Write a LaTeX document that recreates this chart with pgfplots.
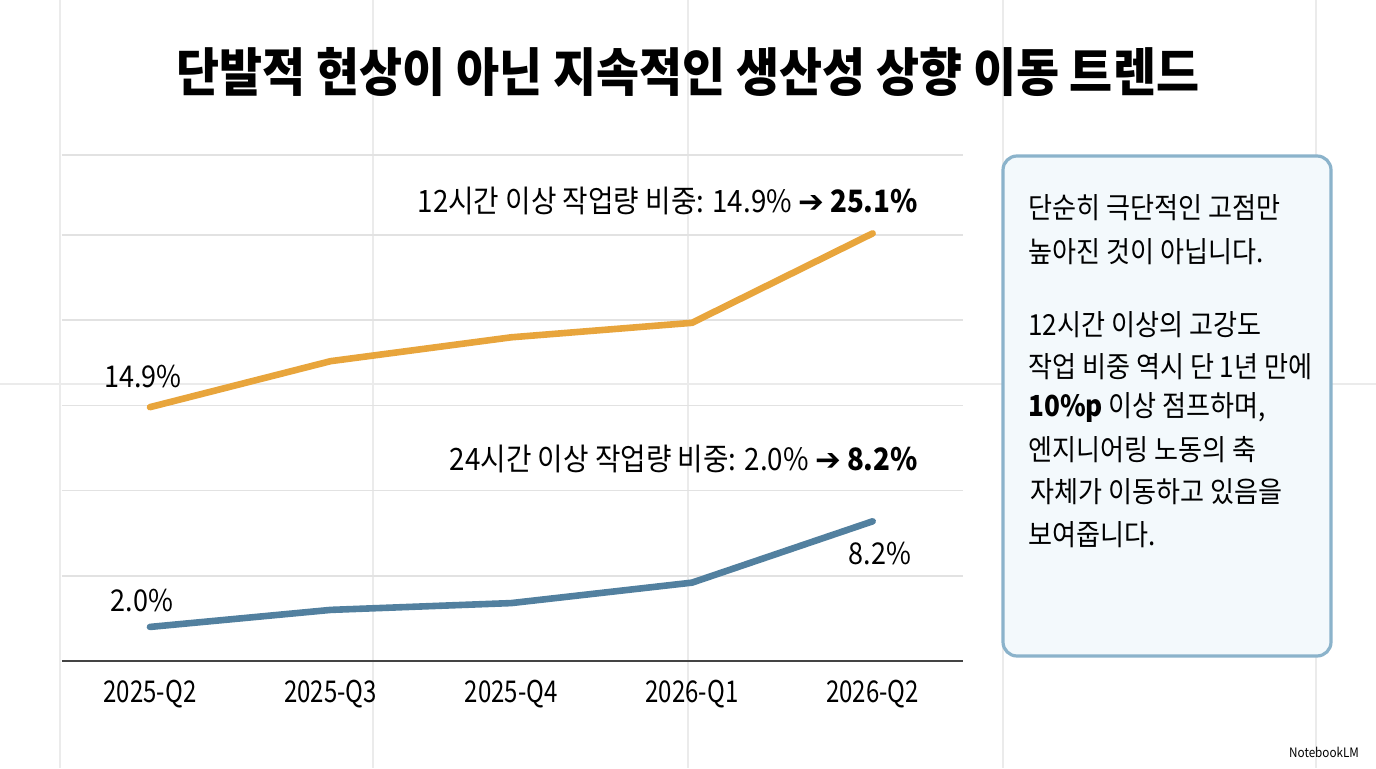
\documentclass[border=0pt]{standalone}
\usepackage{fontspec}
\usepackage{pgfplots}
\pgfplotsset{compat=1.18}
\setmainfont{Noto Sans CJK KR}[FakeStretch=0.9]
\newfontfamily\titlefont{Noto Sans CJK KR}[FakeStretch=0.9]
\newfontfamily\tickfont{Noto Sans CJK KR}[FakeStretch=0.8]
\newfontfamily\sym{DejaVu Sans}
\definecolor{orangeL}{HTML}{E8A53C}
\definecolor{blueL}{HTML}{52809F}
\definecolor{gridc}{HTML}{E2E2E2}
\definecolor{bgc}{HTML}{EBEBEB}
\definecolor{boxb}{HTML}{8BB3CB}
\definecolor{boxf}{HTML}{F3F9FC}
\definecolor{axisc}{HTML}{444444}
\begin{document}
\begin{tikzpicture}
\begin{scope}[x=0.5pt,y=-0.5pt,yshift=384pt]
\path[use as bounding box] (0,0) rectangle (1376,768);
\fill[white] (0,0) rectangle (1376,768);
\foreach \xx in {60,373,688,1003,1316} \draw[bgc, line width=0.6pt] (\xx,0) -- (\xx,768);
\draw[bgc, line width=0.6pt] (0,384) -- (1376,384);
\end{scope}

\begin{axis}[at={(31pt,53.5pt)}, anchor=south west,
  width=450.5pt, height=253pt, scale only axis,
  xmin=-0.487, xmax=4.5, ymin=0, ymax=29.7,
  axis line style={draw=none},
  xtick={0,1,2,3,4},
  xticklabels={2025-Q2,2025-Q3,2025-Q4,2026-Q1,2026-Q2},
  ytick={5,10,15,20,25,29.7}, yticklabels={},
  ymajorgrids, grid style={gridc, line width=0.8pt},
  major tick length=0pt,
  xticklabel style={font=\tickfont\fontsize{15}{18}\selectfont, yshift=-6pt},
  clip=false]
\draw[axisc, line width=1.2pt] (axis cs:-0.487,0) -- (axis cs:4.5,0);
\addplot[orangeL, line width=3.3pt, line join=round, line cap=round] coordinates {(0,14.9) (1,17.6) (2,19.0) (3,19.85) (4,25.1)};
\addplot[blueL, line width=3.3pt, line join=round, line cap=round] coordinates {(0,2.0) (1,3.0) (2,3.4) (3,4.6) (4,8.2)};
\end{axis}

\begin{scope}[x=0.5pt,y=-0.5pt,yshift=384pt]
\node[font=\titlefont\bfseries\fontsize{26}{30}\selectfont] at (688,72) {단발적 현상이 아닌 지속적인 생산성 상향 이동 트렌드};

\node[anchor=east, font=\fontsize{15.4}{18}\selectfont] at (925,201) {12시간 이상 작업량 비중: 14.9\% {\sym ➔} \textbf{25.1\%}};
\node[anchor=east, font=\fontsize{15.4}{18}\selectfont] at (925,459) {24시간 이상 작업량 비중: 2.0\% {\sym ➔} \textbf{8.2\%}};
\node[font=\fontsize{15}{18}\selectfont] at (143,377) {14.9\%};
\node[font=\fontsize{15}{18}\selectfont] at (142,600) {2.0\%};
\node[font=\fontsize{15}{18}\selectfont] at (880,553) {8.2\%};

\draw[boxb, line width=1.6pt, fill=boxf, rounded corners=7pt] (1003,156) rectangle (1331,656);
\begin{scope}[every node/.style={anchor=west, font=\fontsize{14.5}{17}\selectfont, inner sep=0pt}]
\node at (1028,208) {단순히 극단적인 고점만};
\node at (1028,252) {높아진 것이 아닙니다.};
\node at (1028,325) {12시간 이상의 고강도};
\node at (1028,367) {작업 비중 역시 단 1년 만에};
\node at (1028,408) {\textbf{10\%p} 이상 점프하며,};
\node at (1028,450) {엔지니어링 노동의 축};
\node at (1030,492) {자체가 이동하고 있음을};
\node at (1028,535) {보여줍니다.};
\end{scope}
\node[anchor=east, font=\fontsize{6.5}{8}\selectfont] at (1366,752) {NotebookLM};
\end{scope}
\end{tikzpicture}
\end{document}
